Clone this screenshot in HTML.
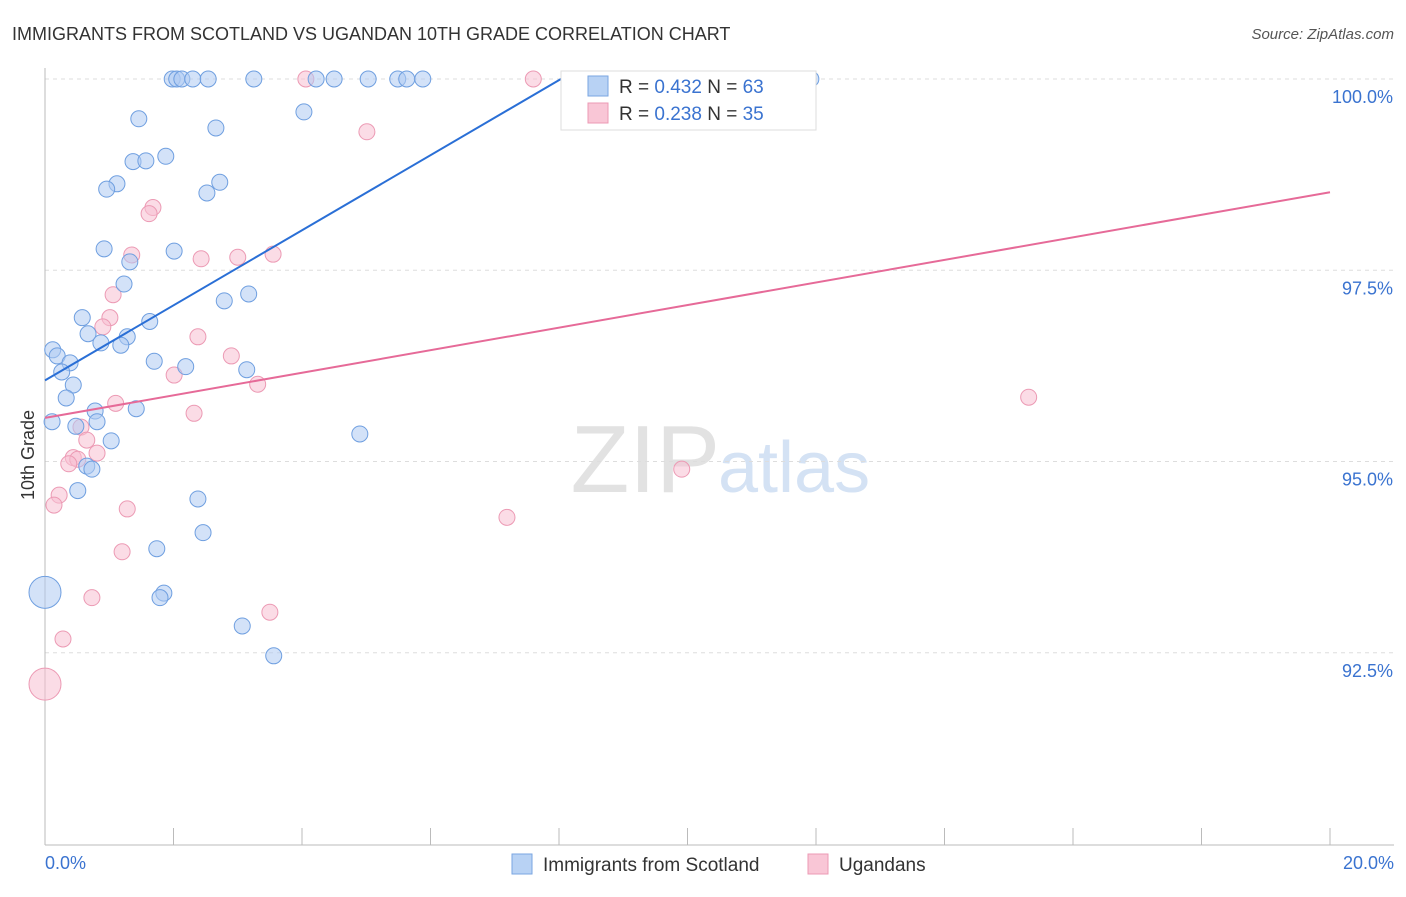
<!DOCTYPE html>
<html><head><meta charset="utf-8">
<style>
body{margin:0;background:#fff;font-family:"Liberation Sans",sans-serif;}
svg text{font-family:"Liberation Sans",sans-serif;}
</style></head>
<body>
<svg id="chart" width="1406" height="892">
<text x="12" y="40" font-size="18" fill="#333">IMMIGRANTS FROM SCOTLAND VS UGANDAN 10TH GRADE CORRELATION CHART</text>
<text x="1394" y="39" font-size="15" fill="#555" text-anchor="end" font-style="italic">Source: ZipAtlas.com</text>
<text x="720" y="492" font-size="96" fill="#e2e2e2" text-anchor="end" font-family="Liberation Serif">ZIP</text>
<text x="718" y="492" font-size="72" fill="#d4e2f4">atlas</text>
<g id="grid"></g>
<g id="axes"></g>
<g id="pts"></g>
<g id="trend"></g>
<text transform="translate(34,455) rotate(-90)" font-size="18" fill="#333" text-anchor="middle">10th Grade</text>
<text x="45" y="869" font-size="18" fill="#3a73d0">0.0%</text>
<text x="1394" y="869" font-size="18" fill="#3a73d0" text-anchor="end">20.0%</text>
<g>
<rect x="561" y="71" width="255" height="59" fill="#fff" stroke="#ddd"/>
<rect x="588" y="76" width="20" height="20" fill="#b8d2f4" stroke="#7aa6e2"/>
<text x="619" y="93" font-size="19" fill="#333">R = <tspan fill="#3a73d0">0.432</tspan>   N = <tspan fill="#3a73d0">63</tspan></text>
<rect x="588" y="103" width="20" height="20" fill="#f9c6d6" stroke="#ec9ab4"/>
<text x="619" y="120" font-size="19" fill="#333">R = <tspan fill="#3a73d0">0.238</tspan>   N = <tspan fill="#3a73d0">35</tspan></text>
</g>
<g>
<rect x="512" y="854" width="20" height="20" fill="#b8d2f4" stroke="#7aa6e2"/>
<text x="543" y="871" font-size="19" fill="#333">Immigrants from Scotland</text>
<rect x="808" y="854" width="20" height="20" fill="#f9c6d6" stroke="#ec9ab4"/>
<text x="839" y="871" font-size="19" fill="#333">Ugandans</text>
</g>
</svg>
<script>
const yTicks=[100,97.5,95,92.5];
const yTickLabels=["100.0%","97.5%","95.0%","92.5%"];
const xTicks=[0,2,4,6,8,10,12,14,16,18,20];
const scotX=[1.98,2.05,2.13,2.3,2.54,3.25,4.22,4.5,5.03,5.49,5.63,5.88,11.92,4.03,1.46,2.66,1.88,1.37,1.57,1.12,0.96,2.72,2.52,0.92,2.01,1.32,1.23,3.17,2.79,0.58,1.63,0.67,1.28,0.87,1.18,0.12,0.19,0.39,0.26,1.7,2.19,3.14,0.44,0.33,0.78,1.42,0.11,0.81,0.48,1.03,4.9,0.65,0.73,0.51,2.38,2.46,1.74,1.85,1.79,3.07,3.56,0];
const scotY=[100,100,100,100,100,100,100,100,100,100,100,100,100,99.57,99.48,99.36,98.99,98.92,98.93,98.63,98.56,98.65,98.51,97.78,97.75,97.61,97.32,97.19,97.1,96.88,96.83,96.67,96.63,96.55,96.52,96.46,96.38,96.29,96.17,96.31,96.24,96.2,96.0,95.83,95.66,95.69,95.52,95.52,95.46,95.27,95.36,94.94,94.9,94.62,94.51,94.07,93.86,93.28,93.22,92.85,92.46,93.29];
const scotR=[8,8,8,8,8,8,8,8,8,8,8,8,8,8,8,8,8,8,8,8,8,8,8,8,8,8,8,8,8,8,8,8,8,8,8,8,8,8,8,8,8,8,8,8,8,8,8,8,8,8,8,8,8,8,8,8,8,8,8,8,8,16];
const ugX=[4.06,7.6,5.01,1.68,1.62,1.35,2.43,3.0,3.55,1.06,1.01,0.9,2.38,2.9,2.01,3.31,1.1,2.32,0.56,0.65,0.44,0.51,0.81,0.37,0.22,0.14,1.28,1.2,0.73,3.5,0.28,0,15.31,9.91,7.19];
const ugY=[100,100,99.31,98.32,98.24,97.7,97.65,97.67,97.71,97.18,96.88,96.76,96.63,96.38,96.13,96.01,95.76,95.63,95.45,95.28,95.05,95.03,95.11,94.97,94.56,94.43,94.38,93.82,93.22,93.03,92.68,92.09,95.84,94.9,94.27];
const ugR=[8,8,8,8,8,8,8,8,8,8,8,8,8,8,8,8,8,8,8,8,8,8,8,8,8,8,8,8,8,8,8,8,8,8,8,8,8,8,8,8,8,8,8,8,8,8,8,8,8,8,8,8,8,8,8,8,8,8,8,8,8,8,8,8,8,8,8,8,8,8,8,8,8,8,8,8,8,8,8,8,8,8,8,8,8,8,8,8,8,8,8,8,8,8,8,8,8,8,8,8,8,8,8,8,8,8,8,8,8,8,8,8,8,8,8,8,8,8,8,8,8,8,8,8,8,8,8,8,8,8,8,8,8,8,8,8,8,8,8,8,8,8,8,8,8,8,8,8,8,8,8,8,8,8,8];
ugR[31]=16;
const scotTrend=[[0,96.06],[8.03,100]];
const ugTrend=[[0,95.57],[20,98.52]];
const NS="http://www.w3.org/2000/svg";
function xs(v){return 45+v/20*1285;}
function ys(v){return 79+(100-v)*76.5;}
function mk(tag,attrs,parent){const e=document.createElementNS(NS,tag);for(const k in attrs)e.setAttribute(k,attrs[k]);parent.appendChild(e);return e;}
const grid=document.getElementById('grid'),axes=document.getElementById('axes'),pts=document.getElementById('pts'),tr=document.getElementById('trend');
yTicks.forEach((t,i)=>{
 const l=mk('line',{x1:45,x2:1394,y1:ys(t),y2:ys(t),stroke:'#ddd','stroke-dasharray':'4,4'},grid);
 
 
 const tx=mk('text',{x:1393,y:ys(t)+24,'font-size':18,fill:'#3a73d0','text-anchor':'end'},grid);
 tx.textContent=yTickLabels[i];
 
 
});
const ax=mk('line',{x1:45,x2:1394,y1:845,y2:845,stroke:'#bbb'},axes);


const ay=mk('line',{x1:45,x2:45,y1:68,y2:845,stroke:'#bbb'},axes);


xTicks.forEach(t=>{
 const l=mk('line',{x1:xs(t),x2:xs(t),y1:828,y2:845,stroke:'#bbb'},axes);
 
 
});
function series(X,Y,R,fill,stroke,name){
 X.forEach((x,i)=>{
  const c=mk('circle',{cx:xs(x),cy:ys(Y[i]),r:R[i],fill:fill,'fill-opacity':0.55,stroke:stroke,'stroke-width':1},pts);
  
  
 });
}
series(ugX,ugY,ugR,'#f7bfd1','#ec9ab4','ugandans-point');
series(scotX,scotY,scotR,'#aecbf2','#6f9fe0','scotland-point');
const t1=mk('line',{x1:xs(scotTrend[0][0]),y1:ys(scotTrend[0][1]),x2:xs(scotTrend[1][0]),y2:ys(scotTrend[1][1]),stroke:'#2a6fd6','stroke-width':2},tr);


const t2=mk('line',{x1:xs(ugTrend[0][0]),y1:ys(ugTrend[0][1]),x2:xs(ugTrend[1][0]),y2:ys(ugTrend[1][1]),stroke:'#e66a98','stroke-width':2},tr);


</script>
</body></html>
